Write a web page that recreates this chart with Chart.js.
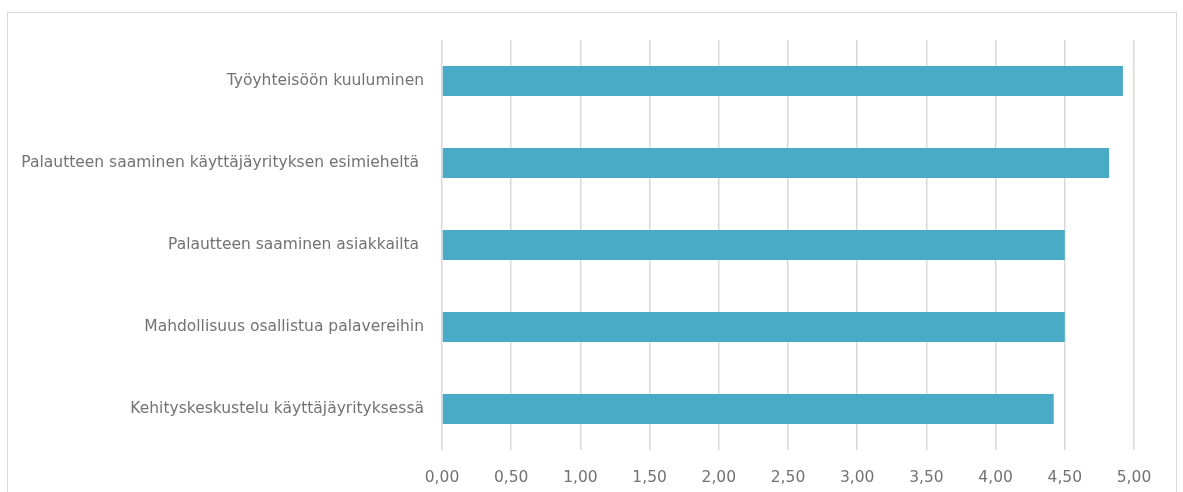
<!DOCTYPE html>
<html>
<head>
<meta charset="utf-8">
<script src="https://cdn.jsdelivr.net/npm/chart.js@4"></script>
<style>
    html, body { margin: 0; padding: 0; background: #fff; }
    #wrap { position: absolute; left: 0; top: 0; width: 1183px; height: 492px; }
    #frame { position: absolute; left: 7px; top: 12px; width: 1170px; height: 500px; border: 1px solid #d9d9d9; box-sizing: border-box; }
</style>
</head>
<body>
<div id="frame"></div>
<div id="wrap"><canvas id="chart" width="1183" height="492"></canvas></div>
<script>
// Data
const labels = [
    'Työyhteisöön kuuluminen',
    'Palautteen saaminen käyttäjäyrityksen esimieheltä ',
    'Palautteen saaminen asiakkailta ',
    'Mahdollisuus osallistua palavereihin',
    'Kehityskeskustelu käyttäjäyrityksessä'
];
const values = [4.92, 4.82, 4.50, 4.50, 4.42];
const tickMin = 0;
const tickMax = 5;
const tickStep = 0.5;

const labelFont = { family: "'DejaVu Sans', sans-serif", size: 15.5 };
const tickFont = { family: "'DejaVu Sans', sans-serif", size: 15.5 };

const config = {
    type: 'bar',
    data: {
        labels: labels,
        datasets: [{
            data: values,
            backgroundColor: '#4aabc6',
            categoryPercentage: 1,
            barPercentage: 0.366
        }]
    },
    options: {
        indexAxis: 'y',
        responsive: false,
        animation: false,
        layout: { padding: { top: 40, right: 49, bottom: 0, left: 0 } },
        plugins: { legend: { display: false }, tooltip: { enabled: false } },
        scales: {
            x: {
                min: tickMin,
                max: tickMax,
                ticks: {
                    stepSize: tickStep,
                    color: '#727272',
                    font: tickFont,
                    padding: 19,
                    maxRotation: 0,
                    callback: v => v.toFixed(2).replace('.', ',')
                },
                grid: { color: '#d9d9d9', lineWidth: 1.5, drawTicks: false },
                border: { display: false },
                afterFit: s => { s.height = 42; }
            },
            y: {
                ticks: { color: '#727272', font: labelFont, padding: 18 },
                grid: { display: false, drawTicks: false },
                border: { display: false },
                afterFit: s => { s.width = 442; }
            }
        }
    }
};

new Chart(document.getElementById('chart'), config);
</script>
</body>
</html>
